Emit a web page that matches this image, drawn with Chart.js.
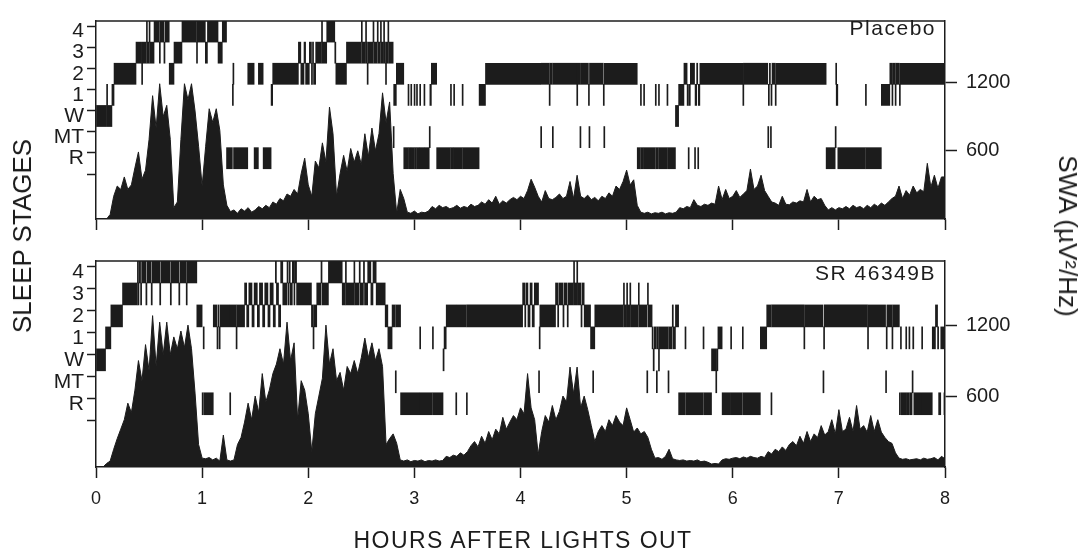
<!DOCTYPE html>
<html lang="en">

<head>
    <meta charset="UTF-8">
    <title>Sleep stages and SWA</title>
    <script src="https://cdn.jsdelivr.net/npm/chart.js"></script>
    <style>
        body {
            margin: 0;
            background-color: #FFFFFF;
            font-family: "Liberation Sans", Arial, sans-serif;
            color: #1C1C1C;
        }

        .figure {
            position: relative;
            width: 1084px;
            height: 550px;
            overflow: hidden;
        }

        canvas {
            position: absolute;
            left: 0;
        }

        #placeboChart {
            top: 0;
        }

        #drugChart {
            top: 240px;
        }

        .txt {
            position: absolute;
            white-space: nowrap;
            line-height: 1;
        }

        .stages-title {
            left: 22px;
            top: 236px;
            font-size: 26px;
            transform: translate(-50%, -50%) rotate(-90deg);
        }

        .swa-title {
            left: 1068px;
            top: 236px;
            font-size: 26px;
            transform: translate(-50%, -50%) rotate(90deg);
        }

        .hours-title {
            left: 523px;
            top: 540px;
            font-size: 23px;
            letter-spacing: 1.4px;
            transform: translate(-50%, -50%);
        }

        .panel-tag {
            right: 148px;
            font-size: 21px;
            letter-spacing: 1.5px;
            transform: translateY(-50%);
        }
    </style>
</head>

<body>
    <div class="figure">
        <canvas id="placeboChart" width="1084" height="240"></canvas>
        <canvas id="drugChart" width="1084" height="310"></canvas>
        <div class="txt stages-title">SLEEP STAGES</div>
        <div class="txt swa-title">SWA (µV²/Hz)</div>
        <div class="txt hours-title">HOURS AFTER LIGHTS OUT</div>
        <div class="txt panel-tag" style="top:27px">Placebo</div>
        <div class="txt panel-tag" style="top:272px">SR 46349B</div>
    </div>

    <script>
        // axis values
        const hourTicks = [0, 1, 2, 3, 4, 5, 6, 7, 8];
        const stageLabels = ['R', 'MT', 'W', '1', '2', '3', '4']; // bottom band -> top band
        const swaTicks = [600, 1200];
        const swaStepHours = 2 / 60; // one SWA value every 2 min

        // hypnograms: [start hour, stage], each run lasts until the next start (last one to 8 h)
        const placeboHypno = [
            [0.000, 'W'], [0.100, '1'], [0.106, 'W'], [0.150, '1'], [0.170, '2'],
            [0.377, '3'], [0.430, '2'], [0.436, '3'], [0.475, '4'], [0.480, '3'], [0.500, '4'], [0.505, '3'],
            [0.547, '4'], [0.597, '3'], [0.604, '4'], [0.640, '3'], [0.650, '4'], [0.690, '2'], [0.735, '3'],
            [0.810, '4'], [0.947, '3'], [0.952, '4'], [1.030, '3'], [1.050, '4'], [1.150, '3'], [1.190, '4'],
            [1.230, 'R'], [1.285, '1'], [1.290, '2'], [1.296, 'R'], [1.430, '2'], [1.490, 'R'], [1.530, '2'], [1.575, 'R'],
            [1.650, '1'], [1.665, '2'], [1.907, '3'], [1.930, '2'], [1.960, '3'], [1.975, '2'], [2.010, '3'], [2.030, '2'],
            [2.040, '3'], [2.050, '2'], [2.070, '3'], [2.125, '4'], [2.130, '3'], [2.174, '4'], [2.250, '3'], [2.260, '2'],
            [2.360, '3'], [2.500, '4'], [2.505, '3'], [2.540, '4'], [2.546, '3'], [2.555, '2'], [2.560, '3'],
            [2.610, '4'], [2.616, '3'], [2.650, '4'], [2.656, '3'], [2.680, '4'], [2.686, '3'], [2.710, '4'], [2.716, '3'],
            [2.728, '2'], [2.734, '3'], [2.750, '4'], [2.756, '3'], [2.800, 'MT'], [2.805, '1'], [2.830, '2'],
            [2.900, 'R'], [2.940, '1'], [2.944, 'R'], [2.966, '1'], [2.970, 'R'], [2.997, '1'], [3.001, 'R'], [3.020, '1'], [3.024, 'R'],
            [3.050, '1'], [3.054, 'R'], [3.090, '1'], [3.094, 'R'], [3.140, 'MT'], [3.146, '1'], [3.160, '2'],
            [3.210, 'R'], [3.340, '1'], [3.344, 'R'], [3.370, '1'], [3.374, 'R'], [3.450, '1'], [3.454, 'R'],
            [3.610, '1'], [3.670, '2'], [4.190, 'MT'], [4.195, '2'], [4.270, '1'], [4.275, '2'], [4.300, 'MT'], [4.305, '2'],
            [4.530, '1'], [4.535, '2'], [4.560, 'MT'], [4.565, '2'], [4.640, '1'], [4.645, 'MT'], [4.650, '2'],
            [4.780, '1'], [4.785, 'MT'], [4.790, '2'], [5.100, 'R'], [5.130, '1'], [5.135, 'R'], [5.160, '1'], [5.165, 'R'],
            [5.270, '1'], [5.275, 'R'], [5.300, '1'], [5.305, 'R'], [5.380, '1'], [5.385, 'R'], [5.460, 'W'], [5.490, '1'],
            [5.540, '2'], [5.570, '1'], [5.580, 'R'], [5.585, '1'], [5.600, '2'], [5.640, 'R'], [5.645, '1'], [5.660, '2'],
            [5.670, 'R'], [5.675, '1'], [5.690, '2'], [6.095, '1'], [6.100, '2'], [6.330, 'MT'], [6.335, '1'], [6.345, '2'],
            [6.355, 'MT'], [6.360, '1'], [6.370, '2'], [6.400, '1'], [6.405, '2'], [6.880, 'R'], [6.965, 'MT'], [6.970, '2'],
            [6.975, '1'], [6.990, 'R'], [7.250, '1'], [7.254, 'R'], [7.400, '1'], [7.480, '2'], [7.500, '1'], [7.505, '2'],
            [7.530, '1'], [7.535, '2'], [7.570, '1'], [7.575, '2']
        ];

        const drugHypno = [
            [0.000, 'W'], [0.090, '1'], [0.140, '2'], [0.250, '3'], [0.390, '4'], [0.395, '3'], [0.405, '4'], [0.420, '3'],
            [0.430, '4'], [0.470, '3'], [0.480, '4'], [0.520, '3'], [0.530, '4'], [0.600, '3'], [0.610, '4'], [0.700, '3'],
            [0.710, '4'], [0.780, '3'], [0.790, '4'], [0.850, '3'], [0.856, '4'], [0.950, '2'], [1.000, 'R'], [1.010, '1'],
            [1.016, 'R'], [1.105, '2'], [1.140, '1'], [1.150, '2'], [1.160, '1'], [1.170, '2'], [1.260, 'R'], [1.265, '2'],
            [1.320, '1'], [1.325, '2'], [1.400, '3'], [1.420, '2'], [1.440, '3'], [1.470, '2'], [1.490, '3'], [1.520, '2'],
            [1.540, '3'], [1.570, '2'], [1.590, '3'], [1.620, '2'], [1.640, '3'], [1.670, '2'], [1.690, '4'], [1.700, '3'],
            [1.720, '2'], [1.740, '4'], [1.760, '3'], [1.800, '4'], [1.810, '3'], [1.820, '4'], [1.830, '3'], [1.850, '4'],
            [1.865, '3'], [1.870, '4'], [1.890, '3'], [2.030, '2'], [2.045, '1'], [2.050, '2'], [2.080, '3'], [2.120, '4'],
            [2.130, '3'], [2.190, '4'], [2.320, '3'], [2.350, '4'], [2.355, '3'], [2.430, '4'], [2.436, '3'], [2.480, '4'],
            [2.490, '3'], [2.520, '4'], [2.530, '3'], [2.560, '4'], [2.590, '3'], [2.610, '4'], [2.640, '3'], [2.725, '2'],
            [2.750, '1'], [2.790, '2'], [2.820, 'MT'], [2.826, '2'], [2.870, 'R'], [3.050, '1'], [3.055, 'R'], [3.170, '1'],
            [3.175, 'R'], [3.270, 'W'], [3.280, '1'], [3.300, '2'], [3.390, 'R'], [3.395, '2'], [3.490, 'R'], [3.495, '2'],
            [4.020, '3'], [4.040, '2'], [4.050, '3'], [4.070, '2'], [4.090, '3'], [4.110, '2'], [4.130, '3'], [4.170, 'MT'],
            [4.176, '1'], [4.182, '2'], [4.330, '3'], [4.350, '2'], [4.360, '3'], [4.400, '2'], [4.410, '3'], [4.440, '2'],
            [4.450, '3'], [4.500, '4'], [4.506, '3'], [4.530, '4'], [4.536, '3'], [4.570, '2'], [4.580, '3'], [4.600, '2'],
            [4.660, '1'], [4.680, 'MT'], [4.686, '1'], [4.700, '2'], [4.970, '3'], [4.976, '2'], [5.000, '3'], [5.006, '2'],
            [5.030, '3'], [5.036, '2'], [5.110, '3'], [5.116, '2'], [5.190, 'MT'], [5.196, '3'], [5.200, '2'], [5.240, '1'],
            [5.250, 'W'], [5.260, '1'], [5.280, 'MT'], [5.286, '1'], [5.300, 'W'], [5.306, '1'], [5.390, 'MT'], [5.396, '1'],
            [5.430, '2'], [5.440, '1'], [5.460, '2'], [5.490, 'R'], [5.550, '1'], [5.556, 'R'], [5.720, '1'], [5.726, 'R'],
            [5.800, 'W'], [5.840, 'MT'], [5.846, 'W'], [5.860, '1'], [5.900, 'R'], [5.980, '1'], [5.986, 'R'], [6.090, '1'],
            [6.096, 'R'], [6.260, '1'], [6.320, '2'], [6.360, 'R'], [6.366, '2'], [6.670, '1'], [6.676, '2'], [6.850, 'MT'],
            [6.856, '1'], [6.862, '2'], [7.270, '1'], [7.276, '2'], [7.440, 'MT'], [7.446, '1'], [7.452, '2'], [7.500, '1'],
            [7.506, '2'], [7.570, 'R'], [7.580, '1'], [7.586, 'R'], [7.630, '1'], [7.636, 'R'], [7.660, '1'], [7.666, 'R'],
            [7.690, 'MT'], [7.696, '1'], [7.706, 'R'], [7.780, '1'], [7.786, 'R'], [7.880, '1'], [7.910, '2'], [7.930, '1'],
            [7.940, 'R'], [7.960, '1'], [7.990, 'R']
        ];

        // slow wave activity, µV²/Hz, one value per 2 min from lights out
        const placeboSwa = [
            0, 0, 0, 0, 40, 200, 290, 260, 370, 260,
            300, 450, 590, 350, 430, 700, 1085, 800, 1190, 900,
            1000, 700, 100, 150, 700, 1190, 1050, 1190, 950, 640,
            290, 640, 970, 850, 970, 780, 300, 120, 65, 80,
            50, 90, 70, 100, 60, 80, 110, 90, 120, 100,
            150, 130, 180, 160, 220, 200, 260, 220, 400, 535,
            300, 200, 510, 450, 670, 500, 985, 750, 200, 400,
            560, 420, 620, 500, 600, 480, 750, 550, 800, 600,
            750, 1110, 850, 1030, 400, 50, 260, 180, 60, 50,
            70, 45, 60, 55, 70, 110, 90, 120, 100, 110,
            90, 100, 120, 95, 110, 100, 130, 110, 120, 150,
            130, 170, 140, 200, 130, 160, 140, 170, 190, 170,
            200, 180, 250, 350, 280, 200, 150, 250, 180, 170,
            190, 220, 180, 200, 330, 180, 385, 200, 180, 210,
            170, 190, 160, 200, 180, 230, 200, 290, 260, 330,
            430, 300, 345, 120, 60, 50, 60, 45, 55, 50,
            60, 45, 55, 50, 60, 100, 90, 110, 100, 170,
            120, 110, 130, 120, 140, 130, 290, 170, 260, 180,
            200, 250, 190, 220, 250, 440, 260, 290, 385, 250,
            200, 150, 140, 120, 200, 130, 125, 150, 140, 160,
            150, 260, 150, 200, 170, 180, 120, 80, 100, 80,
            100, 90, 110, 90, 120, 100, 110, 90, 120, 100,
            130, 110, 140, 120, 150, 180, 200, 290, 180, 250,
            210, 290, 230, 260, 240, 490, 280, 385, 270, 370,
            370
        ];

        const drugSwa = [
            0, 0, 0, 30, 50, 150, 240, 320, 400, 540,
            460, 650, 900, 730, 1035, 815, 1280, 850, 1225, 950,
            1225, 950, 1100, 1000, 1150, 1010, 1200, 1000, 625, 190,
            75, 70, 80, 60, 75, 50, 270, 60, 50, 60,
            190, 250, 380, 540, 400, 600, 460, 790, 550, 650,
            790, 870, 1000, 870, 1225, 900, 1050, 400, 730, 650,
            450, 130, 450, 600, 750, 1200, 870, 1000, 730, 800,
            650, 850, 790, 900, 790, 925, 1090, 925, 1050, 900,
            1000, 850, 190, 240, 280, 200, 60, 50, 60, 45,
            55, 50, 60, 45, 55, 50, 60, 50, 55, 90,
            80, 100, 90, 120, 100, 130, 180, 215, 170, 260,
            200, 300, 230, 320, 280, 420, 320, 380, 435, 400,
            500, 450, 790, 500, 400, 105, 300, 435, 380, 520,
            400, 470, 600, 550, 845, 620, 845, 500, 600, 485,
            350, 215, 300, 350, 300, 400, 350, 435, 380, 350,
            500, 400, 295, 330, 280, 300, 250, 150, 75, 80,
            65, 90, 150, 70, 60, 55, 60, 50, 55, 50,
            60, 45, 50, 40, 25, 30, 25, 60, 70, 65,
            75, 80, 70, 85, 75, 90, 80, 75, 90, 80,
            130, 110, 150, 130, 170, 140, 190, 215, 180, 260,
            200, 300, 215, 280, 250, 350, 270, 300, 400, 280,
            485, 300, 320, 420, 300, 520, 320, 350, 295, 435,
            300, 400, 295, 250, 215, 200, 120, 75, 65, 70,
            60, 65, 70, 60, 75, 65, 70, 80, 60, 90,
            70
        ];

        const ink = '#1C1C1C';
        const fontFamily = '"Liberation Sans", Arial, sans-serif';

        // stage ticks: band edges get a tick mark, band centres get the label
        const stageTickValues = [];
        for (let k = 0; k <= stageLabels.length; k++) {
            stageTickValues.push(k);
            if (k < stageLabels.length) stageTickValues.push(k + 0.5);
        }

        function hypnoBars(hypno) {
            return hypno.map((run, k) => {
                const end = k + 1 < hypno.length ? hypno[k + 1][0] : hourTicks[hourTicks.length - 1];
                return { x: [run[0], end], y: stageLabels.indexOf(run[1]) + 0.5 };
            });
        }

        function swaPoints(values) {
            return values.map((v, i) => ({ x: i * swaStepHours, y: v }));
        }

        // top edge of the frame
        const frameTop = {
            id: 'frameTop',
            afterDraw(chart) {
                const { ctx, chartArea } = chart;
                ctx.save();
                ctx.strokeStyle = ink;
                ctx.lineWidth = 1.5;
                ctx.beginPath();
                ctx.moveTo(chartArea.left, chartArea.top);
                ctx.lineTo(chartArea.right, chartArea.top);
                ctx.stroke();
                ctx.restore();
            }
        };

        function makePanel(canvasId, hypno, swa, showHours, topPad, xAxisHeight) {
            return new Chart(document.getElementById(canvasId), {
                type: 'line',
                data: {
                    datasets: [{
                        type: 'bar',
                        indexAxis: 'y',
                        data: hypnoBars(hypno),
                        xAxisID: 'x',
                        yAxisID: 'yStage',
                        backgroundColor: ink,
                        borderWidth: 0,
                        minBarLength: 1,
                        barThickness: ctx => {
                            const s = ctx.chart.scales.yStage;
                            const h = s ? Math.abs(s.getPixelForValue(1) - s.getPixelForValue(0)) : NaN;
                            return Number.isFinite(h) && h > 0 ? h : 22.6;
                        }
                    }, {
                        type: 'line',
                        data: swaPoints(swa),
                        xAxisID: 'x',
                        yAxisID: 'ySwa',
                        borderColor: ink,
                        backgroundColor: ink,
                        borderWidth: 1,
                        pointRadius: 0,
                        tension: 0,
                        fill: 'origin'
                    }]
                },
                options: {
                    responsive: false,
                    animation: false,
                    layout: { autoPadding: false, padding: { top: topPad, left: 0, right: 0, bottom: 0 } },
                    plugins: { legend: { display: false }, tooltip: { enabled: false } },
                    scales: {
                        x: {
                            type: 'linear',
                            axis: 'x',
                            position: 'bottom',
                            min: 0,
                            max: 8,
                            offset: false,
                            afterBuildTicks: s => { s.ticks = hourTicks.map(v => ({ value: v })); },
                            afterFit: s => { s.height = xAxisHeight; },
                            ticks: {
                                display: showHours,
                                autoSkip: false,
                                maxRotation: 0,
                                padding: 10,
                                color: ink,
                                font: { family: fontFamily, size: 18 }
                            },
                            grid: { drawOnChartArea: false, tickLength: 11, tickWidth: 1.5, tickColor: ink },
                            border: { display: true, color: ink, width: 1.5 }
                        },
                        yStage: {
                            type: 'linear',
                            axis: 'y',
                            position: 'left',
                            min: -2.38,
                            max: stageLabels.length,
                            offset: false,
                            afterBuildTicks: s => { s.ticks = stageTickValues.map(v => ({ value: v })); },
                            afterFit: s => { s.width = 96; },
                            ticks: {
                                autoSkip: false,
                                padding: 3,
                                color: ink,
                                font: { family: fontFamily, size: 21 },
                                callback: v => Number.isInteger(v - 0.5) ? stageLabels[v - 0.5] : ''
                            },
                            grid: {
                                drawOnChartArea: false,
                                tickLength: 9,
                                tickWidth: 1.5,
                                color: ink,
                                tickColor: ctx => (ctx.tick && !Number.isInteger(ctx.tick.value)) ? 'rgba(0,0,0,0)' : ink
                            },
                            border: { display: true, color: ink, width: 1.5 }
                        },
                        ySwa: {
                            type: 'linear',
                            axis: 'y',
                            position: 'right',
                            min: 0,
                            max: 1742,
                            offset: false,
                            afterBuildTicks: s => { s.ticks = swaTicks.map(v => ({ value: v })); },
                            afterFit: s => { s.width = 139; },
                            ticks: {
                                autoSkip: false,
                                padding: 9,
                                color: ink,
                                font: { family: fontFamily, size: 20 },
                                callback: v => String(v)
                            },
                            grid: { drawOnChartArea: false, tickLength: 12, tickWidth: 1.5, tickColor: ink },
                            border: { display: true, color: ink, width: 1.5 }
                        }
                    }
                },
                plugins: [frameTop]
            });
        }

        makePanel('placeboChart', placeboHypno, placeboSwa, false, 12, 16);
        makePanel('drugChart', drugHypno, drugSwa, true, 15, 83);
    </script>
</body>

</html>
